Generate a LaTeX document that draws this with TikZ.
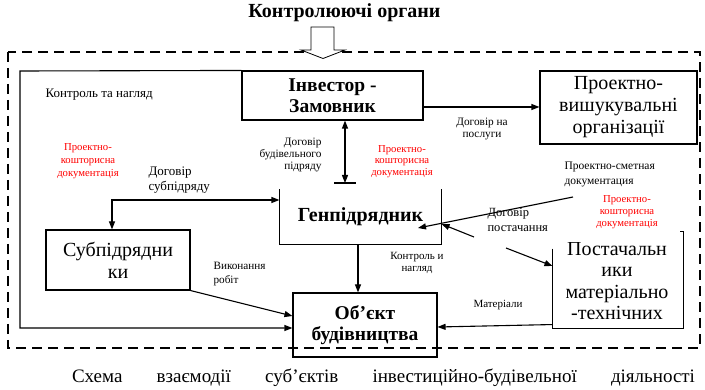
\documentclass[tikz,border=0pt]{standalone}
\usepackage{fontspec}
\setmainfont{Liberation Serif}
\usetikzlibrary{arrows.meta,calc}
\newcommand{\fs}[2]{\fontsize{#1}{#2}\selectfont}
\begin{document}
\begin{tikzpicture}[x=1pt,y=-1pt,
  line width=1.1pt,
  >={Triangle[length=8pt,width=6pt]},
  box/.style={draw,inner sep=0pt,align=center},
  bigtxt/.style={font=\fs{20}{22}},
  boldtxt/.style={font=\bfseries\fs{19.5}{21}},
  lbl/.style={inner sep=0pt,font=\fs{11}{12}},
  redlbl/.style={inner sep=0pt,text=red,align=center,font=\fs{10.7}{12}},
  border/.style={line width=2.4pt,dash pattern=on 10pt off 6pt}]
\useasboundingbox (0,0) rectangle (705,390);

% title and hollow arrow
\node[font=\bfseries\fs{20}{22}] (title) at (344.5,13) {Контролюючі органи};
\draw[border] (8,52) rectangle (700,348);
\draw[fill=white,line width=0.8pt] (311,27) -- (334,27) -- (334,50) -- (345,50) -- (323,58.5) -- (301,50) -- (311,50) -- cycle;

% boxes
\node[box,boldtxt,minimum width=181pt,minimum height=49pt] (inv) at (332.5,95.5) {Інвестор -\\Замовник};
\node[box,bigtxt,minimum width=157pt,minimum height=73pt] (pvo) at (618.5,107.5) {Проектно-\\вишукувальні\\організації};
\node[inner sep=0pt,minimum width=161pt,minimum height=54pt,font=\bfseries\fs{20}{22}] (gen) at (360.5,217) {Генпідрядник};
\draw (gen.north west) -- (gen.south west) -- (gen.south east) -- (gen.north east);
\node[box,bigtxt,minimum width=144pt,minimum height=60pt] (sub) at (118,260) {Субпідрядни\\ки};
\node[box,boldtxt,minimum width=144pt,minimum height=64pt] (obj) at (365,325) {Об’єкт\\будівництва};
\node[inner sep=0pt,minimum width=130pt,minimum height=96pt] (post) at (618,280) {};
\begin{scope}
\clip (545,243) rectangle (695,335);
\node[align=center,inner sep=0pt,font=\fs{20}{21.3}] (posttxt) at (617,281) {Постачальн\\ики\\матеріально\\-технічних};
\end{scope}
\draw ($(post.south west)+(0,-80)$) -- (post.south west) -- (post.south east) -- (post.north east) -- ++(-4,0);

% control line
\coordinate (c1) at (20,71);
\coordinate (c2) at (20,328);
\draw[->] (inv.north west) -- (c1) -- (c2) -- (c2 -| obj.west);
\node[lbl,anchor=west,font=\fs{13}{14}] (ctl) at (45,95) {Контроль та нагляд};

% investor -> design orgs
\coordinate (ie) at ($(inv.east)+(0,11.5)$);
\draw[->] (ie) -- (ie -| pvo.west);
\node[lbl,align=center,font=\fs{11.3}{12.5}] (lposl) at (482,129) {Договір на\\послуги};

% investor <-> general contractor
\coordinate (bar) at (345,183);
\draw[<->] (inv.south -| bar) -- (bar);
\draw ($(bar)+(-11,0)$) -- ($(bar)+(11,0)$);
\node[lbl,align=right,anchor=east,font=\fs{11.3}{11.6}] (lbp) at (322,155) {Договір\\будівельного\\підряду};
\node[redlbl,font=\fs{10.7}{11.6}] (r2) at (402,161.5) {Проектно-\\кошторисна\\документація};

% subcontract
\coordinate (sb) at (112,200);
\draw[<->] (sub.north -| sb) -- (sb) -- (sb -| gen.west);
\node[lbl,align=left,anchor=west,font=\fs{13}{15}] (lsp) at (148,180) {Договір\\субпідряду};
\node[redlbl,font=\fs{10.7}{13}] (r1) at (88,161) {Проектно-\\кошторисна\\документація};

% gen -> object
\coordinate (gx) at (358,0);
\draw[->] (gen.south -| gx) -- (obj.north -| gx);
\node[lbl,align=center] (lkn) at (417,263) {Контроль и\\нагляд};

% sub -> object
\draw[->] (sub.south east) -- (obj.west |- 0,316);
\node[lbl,align=left,anchor=west,font=\fs{11.2}{14}] (lvr) at (213,274) {Виконання\\робіт};

% suppliers -> object
\draw[->] ($(post.south west)+(0,-4)$) -- (obj.east |- 0,327);
\node[lbl] (lmat) at (498,305) {Матеріали};

% right side arrows
\coordinate (psd) at (573,197);
\draw[->] (psd) -- (418,228);
\node[lbl,align=left,anchor=west,font=\fs{11.5}{15}] (lpsd) at (564,174.5) {Проектно-сметная\\документация};
\coordinate (dp1) at (474,237);
\coordinate (dp2) at (506,248);
\draw[->] (dp1) -- (gen.east |- 0,224);
\draw[->] (dp2) -- (post.west |- 0,266);
\node[lbl,align=left,anchor=west,font=\fs{12.5}{14.5}] (ldp) at (487,220) {Договір\\постачання};
\node[redlbl,font=\fs{10.7}{12}] (r3) at (627,212) {Проектно-\\кошторисна\\документація};

% caption
\node[inner sep=0pt,font=\fs{19}{21}] (cap) at (383.5,378) {\makebox[623pt][s]{Схема взаємодії суб’єктів інвестиційно-будівельної діяльності}};
\end{tikzpicture}
\end{document}
